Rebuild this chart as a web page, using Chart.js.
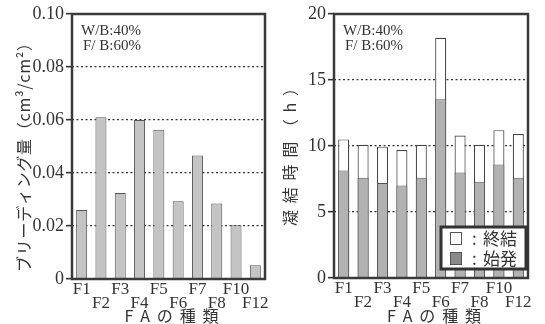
<!DOCTYPE html>
<html><head><meta charset="utf-8">
<script src="https://cdn.jsdelivr.net/npm/chart.js@4.4.0/dist/chart.umd.min.js"></script>
<style>
html,body{margin:0;padding:0;background:#fff;}
#wrap{position:relative;width:545px;height:324px;overflow:hidden;background:#fff;}
#c1{position:absolute;left:0;top:0;}
#c2{position:absolute;left:275px;top:0;}
</style></head><body>
<div id="wrap"><canvas id="c1" width="275" height="324"></canvas><canvas id="c2" width="270" height="324"></canvas></div>
<script>
const categories = ['F1','F2','F3','F4','F5','F6','F7','F8','F10','F12'];
const bleeding = [0.026,0.061,0.0325,0.060,0.0563,0.0293,0.0466,0.0285,0.0203,0.0052];
const initialSet = [8.15,7.6,7.2,7.0,7.6,13.55,8.0,7.3,8.6,7.6];
const finalSet = [10.5,10.1,9.95,9.7,10.1,18.2,10.8,10.1,11.2,10.9];
const leftTicks = [0,0.02,0.04,0.06,0.08,0.10];
const leftTickLabels = ['0','0.02','0.04','0.06','0.08','0.10'];
const rightTicks = [0,5,10,15,20];
const rightTickLabels = ['0','5','10','15','20'];
const noteLines = ['W/B:40%','F/ B:60%'];
const leftYTitle = 'ブリーディング量（cm³/cm²）';
const rightYTitle = '凝結時間（h）';
const xTitle = 'FAの種類';
const legendLabels = ['終結','始発'];

const SERIF = '"Liberation Serif","DejaVu Serif",serif';
const JP = '"Noto Sans CJK JP","Noto Sans",sans-serif';
const INK = '#333';

function spaced(ctx, text, a, b, fixed, rotated, font) {
  const chars = Array.from(text);
  ctx.save();
  ctx.font = font; ctx.fillStyle = INK; ctx.textBaseline = 'middle'; ctx.textAlign = 'left';
  const widths = chars.map(c => ctx.measureText(c).width);
  const tot = widths.reduce((s, w) => s + w, 0);
  const len = Math.abs(b - a);
  const gap = chars.length > 1 ? (len - tot) / (chars.length - 1) : 0;
  if (rotated) { ctx.translate(fixed, a); ctx.rotate(-Math.PI / 2); }
  else { ctx.translate(a, fixed); }
  let p = 0;
  chars.forEach((c, i) => { ctx.fillText(c, p, 0); p += widths[i] + gap; });
  ctx.restore();
}

function decor(opts) {
  return {
    id: 'decor' + opts.key,
    afterDatasetsDraw(chart) {
      const ctx = chart.ctx, ca = chart.chartArea;
      ctx.save();
      ctx.strokeStyle = '#3a3a3a'; ctx.lineWidth = 2.5;
      ctx.strokeRect(ca.left, ca.top, ca.right - ca.left, ca.bottom - ca.top);
      ctx.font = '15px ' + SERIF; ctx.fillStyle = INK; ctx.textBaseline = 'alphabetic';
      ctx.fillText(noteLines[0], ca.left + 9, ca.top + 21);
      ctx.fillText(noteLines[1], ca.left + 11, ca.top + 36);
      ctx.restore();
      spaced(ctx, opts.yTitle, opts.yA, opts.yB, opts.yX, true, '16px ' + JP);
      const cx = (ca.left + ca.right) / 2;
      spaced(ctx, xTitle, cx - 44, cx + 50, 316, false, '16px ' + JP);
      if (opts.legend) {
        const x0 = 166, y0 = 227, w = 85, h = 42;
        ctx.save();
        ctx.fillStyle = '#fff'; ctx.fillRect(x0, y0, w, h);
        ctx.strokeStyle = '#333'; ctx.lineWidth = 3; ctx.strokeRect(x0, y0, w, h);
        const ds = chart.data.datasets;
        const rows = [{d: ds[1], y: 238.5}, {d: ds[0], y: 258.5}];
        rows.forEach(r => {
          ctx.fillStyle = r.d.legendColor; ctx.strokeStyle = '#555'; ctx.lineWidth = 1;
          ctx.fillRect(175, r.y - 6.5, 12, 13); ctx.strokeRect(175.5, r.y - 6, 11, 12);
          ctx.fillStyle = INK; ctx.font = '17px ' + JP; ctx.textBaseline = 'middle';
          ctx.fillText(':', 197, r.y);
          ctx.fillText(r.d.label, 208, r.y);
        });
        ctx.restore();
      }
    }
  };
}

function xScale(h) {
  return {
    stacked: true, offset: true,
    grid: {display: false, drawTicks: false}, border: {display: false},
    ticks: {
      font: {family: SERIF, size: 17, lineHeight: 0.84}, color: INK, padding: 3,
      maxRotation: 0, autoSkip: false,
      callback: (v, i) => i % 2 === 0 ? [categories[i]] : ['', categories[i]]
    },
    afterFit: s => { s.height = h; }
  };
}
function yScale(max, ticks, labels, width) {
  return {
    min: 0, max: max,
    afterBuildTicks: s => { s.ticks = ticks.map(v => ({value: v})); },
    ticks: {font: {family: SERIF, size: 18}, color: INK, padding: 2, callback: (v, i) => labels[i]},
    grid: {
      color: c => (c.tick && (c.tick.value === 0 || c.tick.value === max)) ? 'rgba(0,0,0,0)' : '#333',
      lineWidth: 1.3, tickColor: '#333', tickLength: 6, tickWidth: 1.6, tickBorderDash: [0, 0]
    },
    border: {display: false, dash: [2, 2.5]},
    afterFit: s => { s.width = width; }
  };
}
const common = {
  responsive: false, animation: false, devicePixelRatio: 1,
  plugins: {legend: {display: false}, tooltip: {enabled: false}},
};

new Chart(document.getElementById('c1'), {
  type: 'bar',
  data: {labels: categories, datasets: [{
    label: 'bleeding', data: bleeding, backgroundColor: '#c4c4c4', borderColor: '#555', borderWidth: 1,
    barPercentage: 0.57, categoryPercentage: 1
  }]},
  options: Object.assign({}, common, {
    layout: {padding: {top: 14, right: 10, left: 0, bottom: 0}},
    scales: {x: xScale(45), y: yScale(0.1, leftTicks, leftTickLabels, 72)}
  }),
  plugins: [decor({key: 1, yTitle: leftYTitle, yA: 272, yB: 35, yX: 24, legend: false})]
});

new Chart(document.getElementById('c2'), {
  type: 'bar',
  data: {labels: categories, datasets: [
    {label: legendLabels[1], data: initialSet, backgroundColor: '#b2b2b2', borderColor: '#555', borderWidth: 1,
     barPercentage: 0.57, categoryPercentage: 1, legendColor: '#8a8a8a'},
    {label: legendLabels[0], data: finalSet, backgroundColor: '#ffffff', borderColor: '#444', borderWidth: 1.2,
     barPercentage: 0.57, categoryPercentage: 1, legendColor: '#ffffff'}
  ]},
  options: Object.assign({}, common, {
    layout: {padding: {top: 14, right: 17, left: 0, bottom: 0}},
    scales: {x: xScale(46), y: yScale(20, rightTicks, rightTickLabels, 59)}
  }),
  plugins: [decor({key: 2, yTitle: rightYTitle, yA: 226, yB: 80, yX: 15, legend: true})]
});
</script>
</body></html>
